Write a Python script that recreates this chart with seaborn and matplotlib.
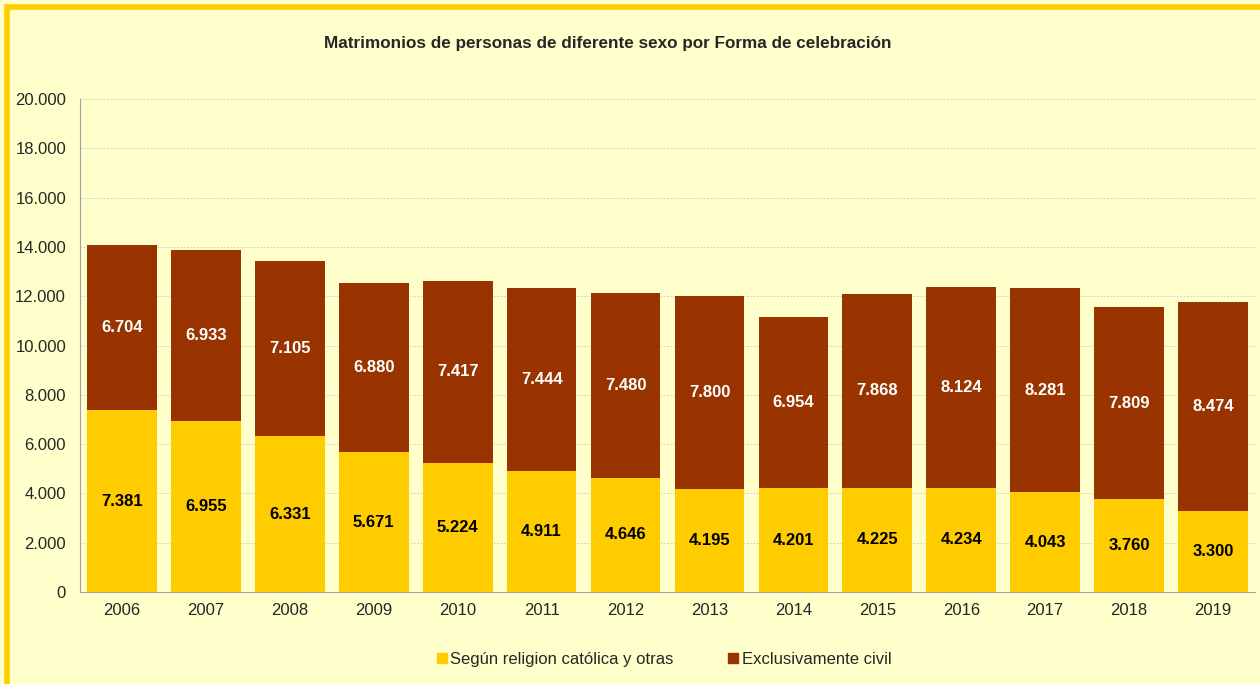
import matplotlib
matplotlib.use("Agg")
import matplotlib.pyplot as plt
import matplotlib.patches as mpatches
from matplotlib.ticker import FuncFormatter, FixedLocator
import seaborn as sns
import pandas as pd

years = ["2006", "2007", "2008", "2009", "2010", "2011", "2012",
         "2013", "2014", "2015", "2016", "2017", "2018", "2019"]
religiosa = [7381, 6955, 6331, 5671, 5224, 4911, 4646,
             4195, 4201, 4225, 4234, 4043, 3760, 3300]
civil = [6704, 6933, 7105, 6880, 7417, 7444, 7480,
         7800, 6954, 7868, 8124, 8281, 7809, 8474]
series_labels = ["Según religion católica y otras", "Exclusivamente civil"]

color_rel = "#FFCC00"
color_civ = "#993300"
bg = "#FFFFCC"

sns.set_style("white")
plt.rcParams["font.family"] = ["Liberation Sans", "DejaVu Sans"]

df = pd.DataFrame({"year": years, "religiosa": religiosa, "civil": civil})
df["total"] = df["religiosa"] + df["civil"]

fig = plt.figure(figsize=(12.6, 6.84), dpi=100, facecolor=bg)
ax = fig.add_axes([0.0635, 0.1345, 0.9325, 0.7205])
ax.set_facecolor(bg)

# stacked bars: total in civil colour, religious part drawn over it
sns.barplot(data=df, x="year", y="total", color=color_civ, width=0.83,
            saturation=1, linewidth=0, edgecolor="none", ax=ax, zorder=3)
sns.barplot(data=df, x="year", y="religiosa", color=color_rel, width=0.83,
            saturation=1, linewidth=0, edgecolor="none", ax=ax, zorder=3)

# labels
fmt = lambda v: f"{int(v):,}".replace(",", ".")
for i, row in df.iterrows():
    ax.text(i, row["religiosa"] / 2, fmt(row["religiosa"]),
            ha="center", va="center", fontsize=12, fontweight="bold",
            color="black", zorder=4)
    ax.text(i, row["religiosa"] + row["civil"] / 2, fmt(row["civil"]),
            ha="center", va="center", fontsize=12, fontweight="bold",
            color="white", zorder=4)

ax.set_ylim(0, 20000)
ax.set_xlim(-0.5, len(years) - 0.5)
ax.set_yticks(range(0, 20001, 2000))
ax.yaxis.set_major_formatter(FuncFormatter(lambda v, p: fmt(v)))
ax.grid(axis="y", color="#C8C8C8", linestyle=(0, (2, 2)), linewidth=0.6, zorder=0)
ax.set_xlabel("")
ax.set_ylabel("")

for s in ["top", "right"]:
    ax.spines[s].set_visible(False)
for s in ["left", "bottom"]:
    ax.spines[s].set_color("#A0A0A0")
    ax.spines[s].set_linewidth(0.8)

ax.tick_params(axis="y", length=3, color="#A0A0A0", labelsize=12, pad=7)
ax.tick_params(axis="x", which="major", length=0, labelsize=12, pad=8)
ax.xaxis.set_minor_locator(FixedLocator([i - 0.5 for i in range(len(years) + 1)]))
ax.tick_params(axis="x", which="minor", length=4, color="#A0A0A0")

fig.text(0.482, 0.937, "Matrimonios de personas de diferente sexo por Forma de celebración",
         ha="center", va="center", fontsize=12.3, fontweight="bold")

handles = [mpatches.Patch(color=color_rel, label=series_labels[0]),
           mpatches.Patch(color=color_civ, label=series_labels[1])]
fig.legend(handles=handles, loc="center", bbox_to_anchor=(0.527, 0.036),
           ncol=2, frameon=False, fontsize=12, handlelength=0.6, handleheight=0.6,
           handletextpad=0.2, columnspacing=3.3)

# yellow frame around the chart
frame = mpatches.Rectangle((0.0055, -0.05), 1.2, 1.0398, transform=fig.transFigure,
                           fill=False, edgecolor=color_rel, linewidth=4, zorder=10)
fig.patches.append(frame)

fig.savefig("out.png", dpi=100, facecolor=bg)
